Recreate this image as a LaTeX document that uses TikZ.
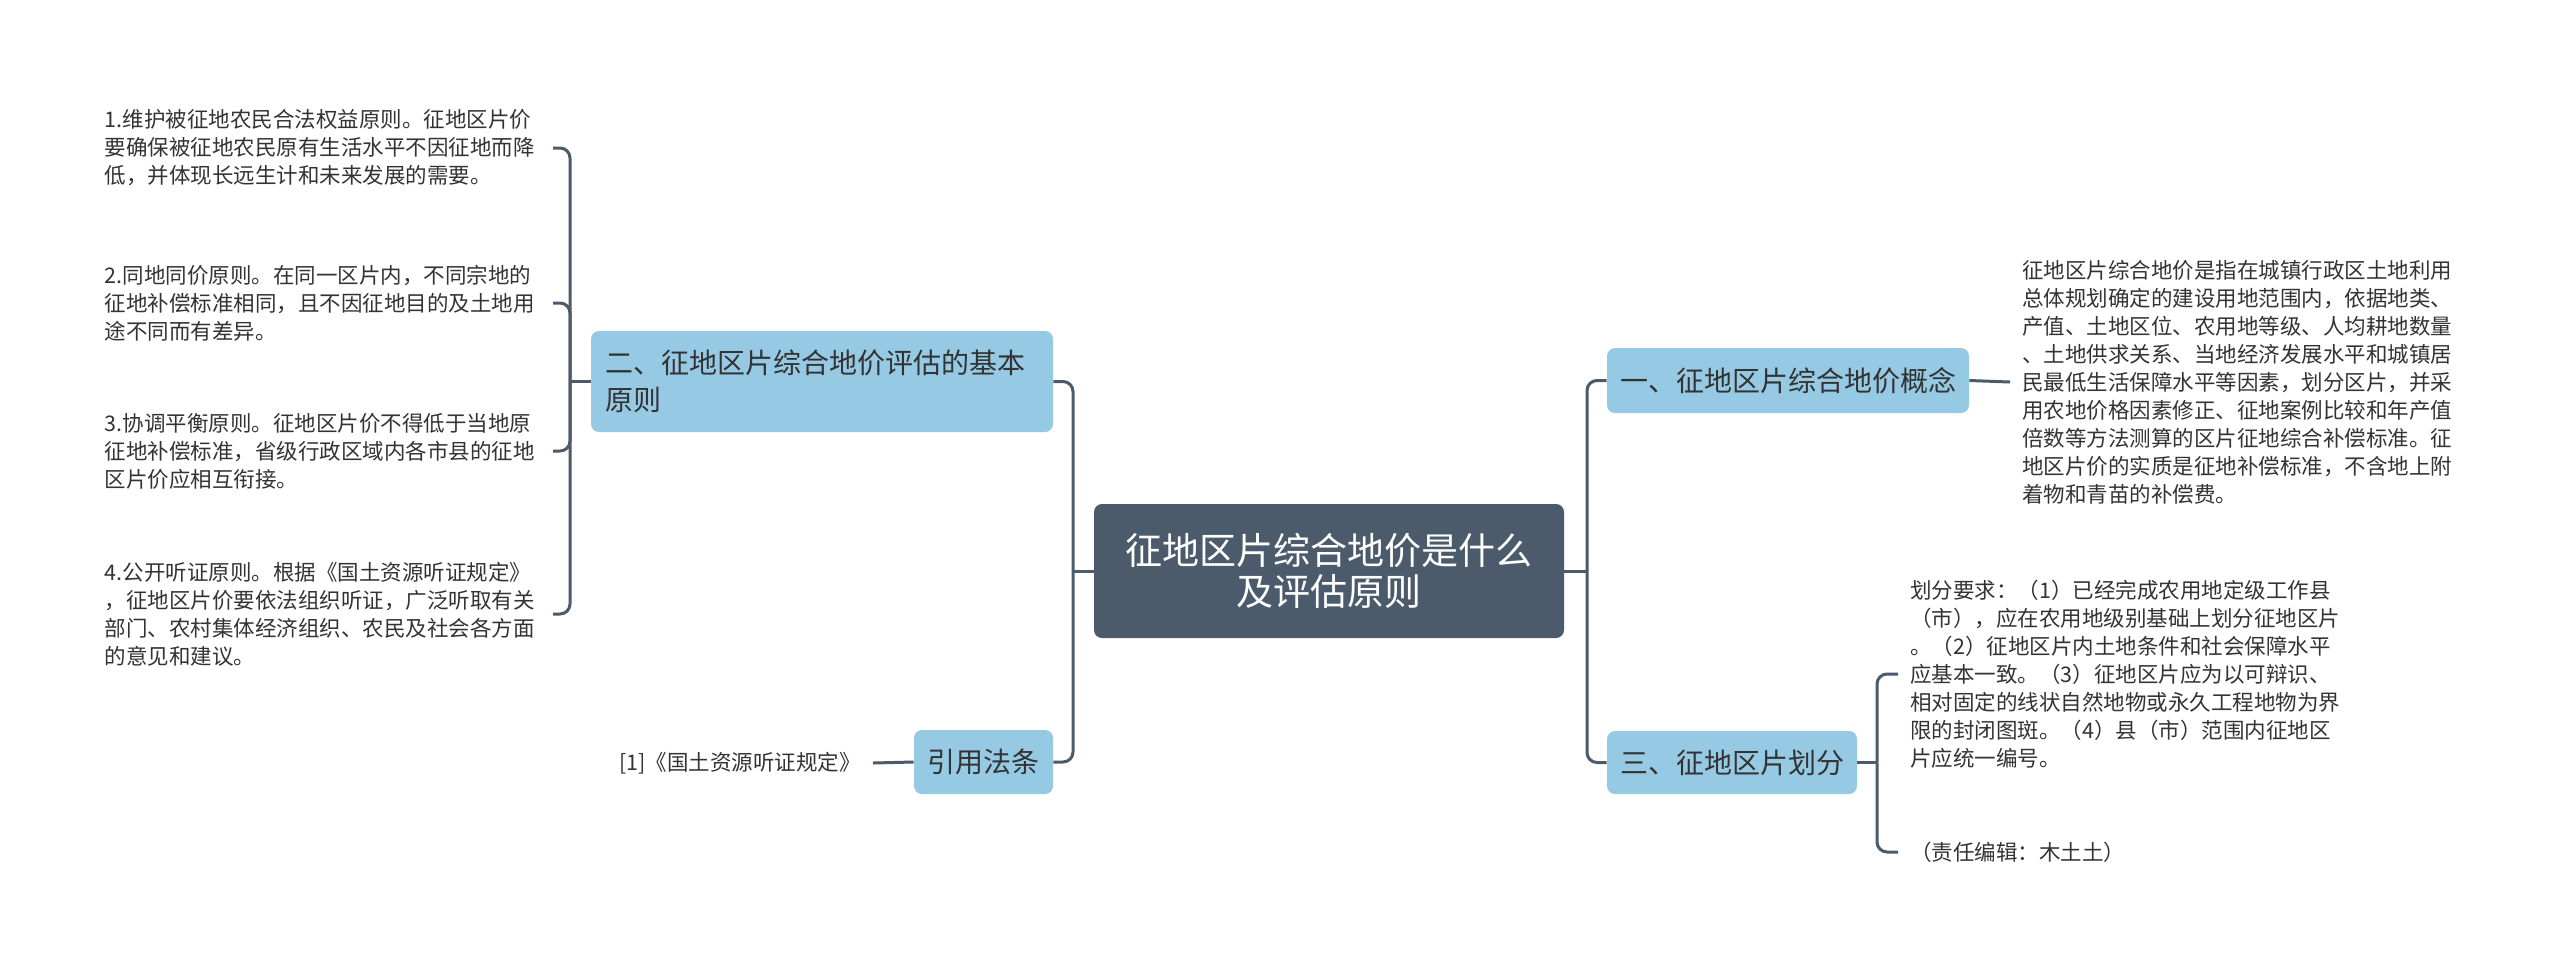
\documentclass[tikz,border=0pt]{standalone}
\usepackage{fontspec}
\setmainfont[Kerning=Off]{Noto Sans CJK SC}
\definecolor{slate}{HTML}{4B5B6B}
\definecolor{sky}{HTML}{96C9E3}
\definecolor{ink}{HTML}{333333}
\begin{document}
\begin{tikzpicture}[x=0.5pt,y=-0.5pt,
 conn/.style={draw=slate, line width=1.5pt, rounded corners=5pt},
 root/.style={fill=slate, rounded corners=4pt, text=white, font=\fontsize{18.5pt}{20.5pt}\selectfont, align=center, minimum width=235pt, minimum height=67pt, inner sep=0pt},
 topic/.style={fill=sky, rounded corners=4pt, text=ink, font=\fontsize{14pt}{18.5pt}\selectfont, inner sep=0pt},
 leaf/.style={text=ink, font=\fontsize{10.75pt}{14pt}\selectfont, align=left, inner xsep=6pt, inner ysep=0pt}]
\useasboundingbox[fill=white] (0,0) rectangle (2560,971);

\node[root] (c) at (1329,571) {征地区片综合地价是什么\\及评估原则};

\node[topic, minimum width=231pt, minimum height=50.5pt, text width=217pt, align=left] (b2) at (822,381.5) {二、征地区片综合地价评估的基本\\原则};
\node[topic, minimum width=69.5pt, minimum height=32pt] (ref) at (983.5,762) {引用法条};
\node[topic, minimum width=181pt, minimum height=32.5pt] (b1) at (1788,380.5) {一、征地区片综合地价概念};
\node[topic, minimum width=125pt, minimum height=31.5pt] (b3) at (1732,762.5) {三、征地区片划分};

\node[leaf, anchor=east, text width=218pt] (l1) at (553,148) {1.维护被征地农民合法权益原则。征地区片价\\要确保被征地农民原有生活水平不因征地而降\\低，并体现长远生计和未来发展的需要。};
\node[leaf, anchor=east, text width=218pt] (l2) at (553,303) {2.同地同价原则。在同一区片内，不同宗地的\\征地补偿标准相同，且不因征地目的及土地用\\途不同而有差异。};
\node[leaf, anchor=east, text width=218pt] (l3) at (553,451) {3.协调平衡原则。征地区片价不得低于当地原\\征地补偿标准，省级行政区域内各市县的征地\\区片价应相互衔接。};
\node[leaf, anchor=east, text width=218pt] (l4) at (553,614) {4.公开听证原则。根据《国土资源听证规定》\\，征地区片价要依法组织听证，广泛听取有关\\部门、农村集体经济组织、农民及社会各方面\\的意见和建议。};

\node[leaf, anchor=east] (lref) at (873,763) {[1]《国土资源听证规定》};

\node[leaf, anchor=west] (lc) at (2010,382) {征地区片综合地价是指在城镇行政区土地利用\\总体规划确定的建设用地范围内，依据地类、\\产值、土地区位、农用地等级、人均耕地数量\\、土地供求关系、当地经济发展水平和城镇居\\民最低生活保障水平等因素，划分区片，并采\\用农地价格因素修正、征地案例比较和年产值\\倍数等方法测算的区片征地综合补偿标准。征\\地区片价的实质是征地补偿标准，不含地上附\\着物和青苗的补偿费。};

\node[leaf, anchor=west] (l3a) at (1898,674) {划分要求：（1）已经完成农用地定级工作县\\（市），应在农用地级别基础上划分征地区片\\。（2）征地区片内土地条件和社会保障水平\\应基本一致。（3）征地区片应为以可辩识、\\相对固定的线状自然地物或永久工程地物为界\\限的封闭图斑。（4）县（市）范围内征地区\\片应统一编号。};
\node[leaf, anchor=west] (l3b) at (1898,852) {（责任编辑：木土土）};

\coordinate (tcl) at (1073,571);
\coordinate (tcr) at (1587,571);
\coordinate (tl) at (570,381.5);
\coordinate (tr) at (1877,762.5);

\draw[conn] (c.west) -- (tcl);
\draw[conn] (tcl) |- (b2.east);
\draw[conn] (tcl) |- (ref.east);
\draw[conn] (c.east) -- (tcr);
\draw[conn] (tcr) |- (b1.west);
\draw[conn] (tcr) |- (b3.west);

\draw[conn] (b2.west) -- (tl);
\draw[conn] (tl) |- (l1.east);
\draw[conn] (tl) |- (l2.east);
\draw[conn] (tl) |- (l3.east);
\draw[conn] (tl) |- (l4.east);

\draw[conn] (ref.west) -- (lref.east);
\draw[conn] (b1.east) -- (lc.west);
\draw[conn] (b3.east) -- (tr);
\draw[conn] (tr) |- (l3a.west);
\draw[conn] (tr) |- (l3b.west);
\end{tikzpicture}
\end{document}
